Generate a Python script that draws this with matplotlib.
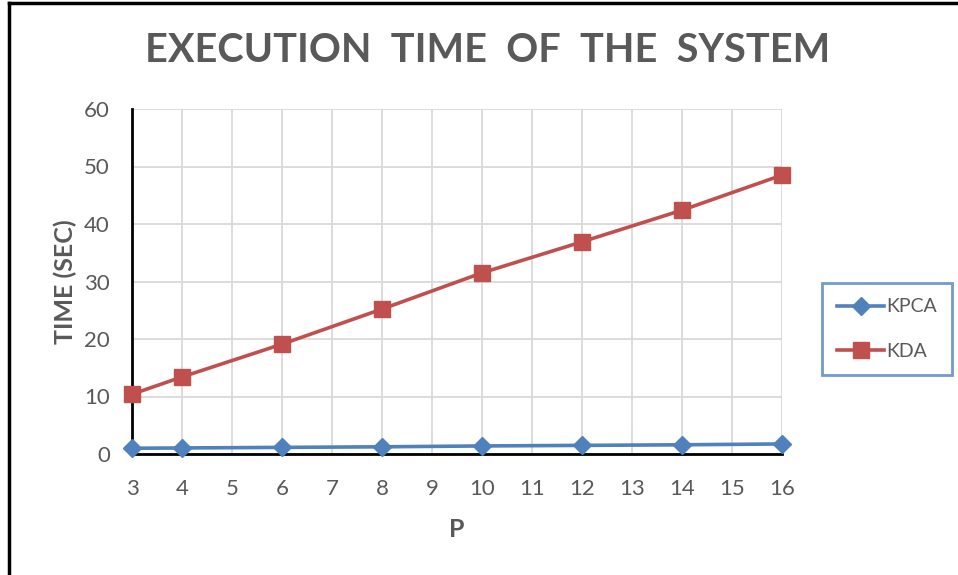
import matplotlib.pyplot as plt
from matplotlib.lines import Line2D

p_values = [3, 4, 6, 8, 10, 12, 14, 16]
kpca_time = [1.0, 1.05, 1.15, 1.25, 1.4, 1.5, 1.6, 1.75]
kda_time = [10.4, 13.4, 19.1, 25.2, 31.5, 36.9, 42.4, 48.5]
x_ticks = list(range(3, 17))
y_ticks = [0, 10, 20, 30, 40, 50, 60]

text_gray = '#595959'
blue = '#4f81bd'
red = '#c0504d'

plt.rcParams['font.family'] = ['Lato', 'DejaVu Sans']

W, H = 958, 575
fig = plt.figure(figsize=(W / 100, H / 100), dpi=100)
# plot area in pixels: x 132..782, y 109..454
ax = fig.add_axes([132 / W, 1 - 454 / H, 650 / W, 345 / H])

ax.plot(p_values, kpca_time, color=blue, lw=2.6, marker='D', markersize=9,
        label='KPCA', zorder=3, clip_on=False)
ax.plot(p_values, kda_time, color=red, lw=2.6, marker='s', markersize=11,
        label='KDA', zorder=3, clip_on=False)

ax.set_xlim(3, 16)
ax.set_ylim(0, 60)
ax.set_xticks(x_ticks)
ax.set_yticks(y_ticks)
ax.grid(True, color='#d9d9d9', lw=1.3)
ax.set_axisbelow(True)
ax.tick_params(length=0, labelsize=16, labelcolor=text_gray)
ax.tick_params(axis='y', pad=16)
ax.tick_params(axis='x', pad=18)
for s in ['top', 'right']:
    ax.spines[s].set_visible(False)
for s in ['left', 'bottom']:
    ax.spines[s].set_color('black')
    ax.spines[s].set_linewidth(2)

ax.set_ylabel('TIME (SEC)', fontsize=18, fontweight='bold', color=text_gray, labelpad=5)
ax.set_xlabel('P', fontsize=18, fontweight='bold', color=text_gray, labelpad=14)

fig.text(488 / W, 1 - 50 / H, 'EXECUTION  TIME  OF  THE  SYSTEM', ha='center', va='center',
         fontsize=28.5, fontweight='bold', color=text_gray)

leg = fig.legend(loc='center', bbox_to_anchor=(887 / W, 1 - 329 / H), fontsize=14,
                 labelcolor=text_gray, frameon=True, fancybox=False, handlelength=2.4,
                 handletextpad=0.1, labelspacing=1.4, borderpad=0.8)
leg.get_frame().set_edgecolor(blue)
leg.get_frame().set_linewidth(2)

# outer border (left and top)
fig.add_artist(Line2D([9 / W, 9 / W], [0, 1 - 3 / H], color='black', lw=2.5))
fig.add_artist(Line2D([9 / W, 1], [1 - 3 / H, 1 - 3 / H], color='black', lw=2.5))

fig.savefig('out.png', dpi=100)
